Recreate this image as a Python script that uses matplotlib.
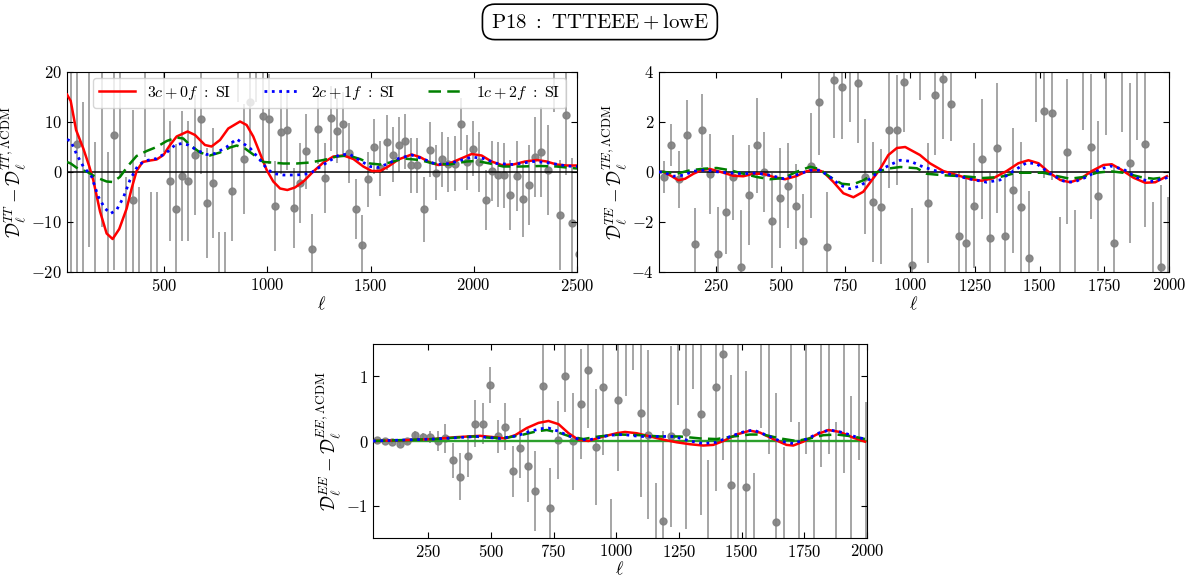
import matplotlib
matplotlib.use("Agg")
import matplotlib.pyplot as plt
import numpy as np

plt.rcParams['font.family'] = 'serif'
plt.rcParams['font.serif'] = ['cmr10']
plt.rcParams['mathtext.fontset'] = 'cm'
plt.rcParams['axes.formatter.use_mathtext'] = True
plt.rcParams['axes.unicode_minus'] = True

# ---- binned data (Delta ell = 30) ----
tt_ell = np.arange(47.5, 2510, 30)
tt_val = [30, 5.7, -28, 25, -30, 22, -26, 7.4, 24, -25,
          -5.6, -24, 23, -23, -22, 21, -1.8, -7.4, -0.8, -1.8,
          3.5, 10.6, -6.1, -2.1, -24, -23, -3.7, 25, 2.7, 14.1,
          25, 11.3, 10.6, -6.8, 8.1, 8.4, -7.1, -2.1, 4.2, -15.4,
          8.7, -1.1, 10.8, 8.3, 9.6, 3.9, -7.4, -14.5, -1.4, 5.1,
          0.8, 6.0, 3.5, 5.5, 6.2, 1.4, 1.4, -7.4, 4.5, -0.1,
          2.6, 1.6, 1.7, 9.7, 2.0, 4.7, 2.0, -5.5, 0.2, -0.5,
          -0.6, -4.5, -0.8, -5.4, -2.6, 3.0, 4.1, 0.4, 24, -8.6,
          11.4, -10.1, -16.4]
tt_err = [60, 45, 42, 40, 36, 33, 30, 27, 25, 24,
          18, 21, 20, 19, 18, 17, 12, 13, 13, 12,
          12, 11, 11, 11, 12, 11, 10, 11, 11, 10,
          11, 9, 9, 9, 8.5, 8, 8, 8, 7.5, 7,
          7, 7, 6.5, 6.5, 6.5, 6, 6, 6, 5.5, 5.5,
          5.5, 5.5, 5.5, 5.5, 5.5, 5.5, 5.5, 6.5, 5.5, 5.5,
          5.5, 5.5, 5.5, 5.2, 5.5, 5.5, 6, 6, 6, 6.5,
          6.5, 7, 7, 7.5, 8, 8, 9, 9, 12, 11,
          12, 13, 15]

te_ell = np.arange(47.5, 2000, 30)
te_val = [-0.19, 1.08, -0.29, 1.48, -2.88, 1.67, -0.09, -3.28, -1.59, -0.21,
          -3.81, -0.92, 1.08, 0.0, -1.95, -1.05, -0.55, -1.36, -2.76, 0.25,
          2.79, -2.99, 3.68, 3.41, 4.6, 3.55, -0.19, -1.19, -1.39, 1.68,
          1.68, 3.59, -3.72, 5.0, -1.25, 3.08, 3.71, 2.71, -2.56, -2.83,
          -1.35, 0.51, -2.63, 0.95, -2.55, -0.73, -1.39, -3.44, 4.8, 2.45,
          2.37, -4.6, 0.81, -4.3, 4.6, 1.01, -0.95, 4.5, -2.85, 4.7,
          0.37, 4.5, 1.11, -4.5, -3.81, -4.4]
te_err = [0.65, 0.85, 1.15, 1.4, 1.45, 1.45, 1.6, 1.9, 1.7, 1.7,
          2.3, 2.0, 1.9, 1.6, 1.9, 2.0, 1.7, 1.7, 1.9, 2.1,
          2.1, 2.2, 2.3, 2.1, 2.6, 2.4, 2.3, 2.4, 2.3, 2.3,
          2.2, 2.0, 2.3, 2.1, 2.4, 2.4, 2.4, 1.45, 2.6, 2.6,
          2.5, 2.4, 2.6, 2.6, 2.5, 2.5, 2.6, 2.7, 2.8, 2.7,
          2.7, 2.8, 2.9, 2.8, 2.9, 2.9, 3.0, 3.0, 3.1, 3.1,
          3.2, 3.2, 3.3, 3.3, 3.3, 3.4]

ee_ell = np.arange(47.5, 2000, 30)
ee_val = [0.01, 0.0, -0.02, -0.04, 0.0, 0.09, 0.06, 0.06, 0.0, 0.04,
          -0.3, -0.55, -0.23, 0.27, 0.27, 0.86, 0.07, 0.22, -0.47, -0.11,
          -0.38, -0.77, 0.85, -1.03, 0.02, 1.0, 0.0, 0.57, 1.10, -0.09,
          0.84, -1.9, 0.63, 1.9, 2.2, 0.44, 0.10, -2.0, -1.24, 0.07,
          2.0, 0.14, 2.3, 0.41, -1.9, 0.83, 1.35, -0.68, -1.7, -0.71,
          -2.4, 2.1, 1.8, -1.26, -2.2, 2.4, -1.9, 2.0, -2.3, 1.9,
          2.2, -2.1, 2.0, -1.8, 2.3, -2.0]
ee_err = [0.02, 0.02, 0.03, 0.04, 0.05, 0.06, 0.07, 0.09, 0.15, 0.22,
          0.27, 0.36, 0.33, 0.36, 0.31, 0.28, 0.26, 0.36, 0.4, 0.46,
          0.56, 0.62, 0.66, 0.62, 0.6, 0.55, 0.75, 0.85, 0.9, 0.9,
          1.05, 1.0, 1.1, 1.2, 1.1, 1.3, 1.3, 1.35, 1.4, 1.4,
          1.45, 1.5, 1.5, 1.55, 1.6, 1.6, 1.65, 1.7, 3.5, 1.8,
          1.9, 1.9, 2.0, 2.0, 2.1, 2.1, 2.2, 2.2, 2.3, 2.3,
          2.4, 2.4, 2.5, 2.5, 2.6, 2.6]

# ---- model residual curves ----
tt_red_ell = [30, 48, 74, 109, 138, 157, 190, 222, 251, 283, 319, 343, 367, 396, 432, 464,
              497, 529, 561, 614, 650, 698, 730, 771, 811, 868, 900, 932, 965, 997, 1029,
              1062, 1097, 1134, 1175, 1223, 1272, 1320, 1369, 1417, 1465, 1506, 1546, 1586,
              1635, 1699, 1739, 1788, 1828, 1876, 1933, 1990, 2038, 2086, 2135, 2191, 2248,
              2305, 2353, 2401, 2450, 2500]
tt_red = [15.5, 14.2, 8.4, 4.7, 1.1, -1.6, -7.9, -12.3, -13.4, -11.4, -7.3, -3.3, 0.2, 2.0,
          2.3, 2.5, 3.4, 5.4, 7.1, 8.1, 7.4, 5.4, 5.1, 6.4, 8.7, 10.1, 9.4, 7.1, 3.7, 0.4,
          -1.9, -3.3, -3.6, -3.1, -1.9, 0.1, 1.9, 3.1, 3.3, 2.6, 1.1, 0.2, 0.2, 1.1, 2.5,
          3.5, 3.0, 1.9, 1.4, 1.6, 2.6, 3.6, 3.3, 2.1, 1.4, 1.5, 2.1, 2.4, 2.1, 1.5, 1.3, 1.3]
tt_blue_ell = [30, 48, 77, 109, 149, 181, 214, 241, 270, 303, 335, 375, 416, 464, 513, 553,
               585, 618, 658, 706, 747, 803, 851, 916, 965, 997, 1029, 1078, 1142, 1207,
               1255, 1304, 1352, 1401, 1449, 1498, 1538, 1586, 1635, 1699, 1756, 1820, 1884,
               1990, 2046, 2111, 2191, 2289, 2353, 2450, 2500]
tt_blue = [6.5, 6.2, 3.5, 1.1, -0.9, -4.9, -7.3, -8.3, -7.6, -5.1, -1.6, 1.4, 2.3, 2.7, 3.9,
           5.4, 5.7, 5.4, 4.4, 3.5, 3.7, 5.0, 6.6, 4.8, 2.4, 0.7, -0.3, -0.6, -0.6, -0.3,
           1.0, 2.3, 3.5, 3.5, 2.3, 1.1, 0.9, 1.7, 2.7, 3.4, 2.6, 1.5, 1.7, 3.0, 2.7, 1.7,
           1.5, 2.1, 1.9, 1.2, 1.1]
tt_green_ell = [30, 48, 85, 125, 173, 222, 251, 286, 327, 367, 416, 464, 513, 561, 593, 626,
                674, 722, 771, 819, 852, 892, 932, 981, 1021, 1078, 1142, 1207, 1272, 1336,
                1393, 1449, 1498, 1546, 1594, 1659, 1739, 1804, 1884, 1965, 2014, 2078, 2143,
                2224, 2321, 2401, 2500]
tt_green = [2.0, 1.7, 0.6, 0.1, -1.1, -1.9, -2.0, -1.0, 1.3, 3.2, 4.2, 5.0, 6.2, 6.9, 6.7,
            5.4, 3.9, 3.3, 3.9, 4.9, 5.3, 4.7, 3.5, 2.0, 1.9, 1.7, 1.7, 1.9, 2.4, 3.1, 3.3,
            2.6, 1.7, 1.5, 1.9, 2.7, 2.4, 1.7, 1.5, 2.1, 2.2, 1.7, 1.1, 1.1, 1.2, 1.1, 0.7]

te_red_ell = [30, 47, 79, 105, 131, 163, 195, 227, 266, 317, 356, 394, 433, 472, 517, 562,
              600, 639, 665, 703, 742, 781, 819, 852, 884, 916, 949, 981, 1038, 1076, 1128,
              1180, 1231, 1276, 1321, 1373, 1418, 1457, 1496, 1541, 1580, 1618, 1657, 1702,
              1747, 1779, 1818, 1863, 1908, 1947, 1992]
te_red = [0.0, 0.01, -0.17, -0.33, -0.27, -0.07, 0.08, 0.12, 0.01, -0.15, -0.17, -0.07,
          -0.07, -0.2, -0.29, -0.16, 0.03, 0.1, 0.0, -0.39, -0.85, -1.01, -0.79, -0.33, 0.12,
          0.68, 0.96, 1.0, 0.68, 0.35, 0.04, -0.12, -0.28, -0.35, -0.25, 0.04, 0.35, 0.47,
          0.35, -0.05, -0.32, -0.41, -0.28, 0.04, 0.28, 0.31, 0.08, -0.23, -0.43, -0.41, -0.17]
te_blue_ell = [30, 47, 85, 124, 163, 208, 253, 305, 356, 408, 459, 511, 562, 614, 652, 691,
               730, 768, 807, 846, 884, 923, 962, 1001, 1051, 1102, 1167, 1231, 1296, 1347,
               1399, 1450, 1489, 1541, 1592, 1631, 1682, 1734, 1773, 1824, 1876, 1927, 1979,
               2000]
te_blue = [0.0, 0.0, -0.17, -0.13, 0.03, 0.08, 0.01, -0.04, -0.07, -0.04, -0.13, -0.27,
           -0.11, 0.07, 0.07, -0.2, -0.53, -0.67, -0.56, -0.27, 0.07, 0.29, 0.47, 0.43, 0.2,
           0.04, -0.12, -0.28, -0.41, -0.32, 0.04, 0.37, 0.33, -0.07, -0.36, -0.41, -0.2,
           0.11, 0.24, 0.11, -0.23, -0.39, -0.27, -0.2]
te_green_ell = [30, 47, 98, 150, 201, 253, 305, 356, 408, 459, 511, 562, 614, 646, 691, 736,
                775, 820, 865, 910, 962, 1026, 1064, 1128, 1206, 1283, 1347, 1411, 1463, 1515,
                1566, 1618, 1669, 1721, 1773, 1824, 1889, 1940, 1992]
te_green = [0.0, 0.01, -0.07, 0.07, 0.13, 0.16, 0.07, -0.07, -0.2, -0.29, -0.24, 0.01, 0.21,
            0.13, -0.2, -0.47, -0.51, -0.33, -0.03, 0.13, 0.2, 0.15, -0.07, -0.13, -0.17,
            -0.24, -0.2, -0.03, -0.03, -0.03, -0.16, -0.27, -0.2, -0.03, 0.03, -0.03, -0.2,
            -0.27, -0.2]

ee_red_ell = [30, 138, 271, 364, 457, 510, 557, 597, 643, 690, 730, 770, 810, 849, 889, 949,
              1002, 1035, 1082, 1135, 1188, 1241, 1294, 1347, 1387, 1427, 1480, 1533, 1573,
              1626, 1679, 1706, 1746, 1799, 1846, 1892, 1946, 1992]
ee_red = [0.0, 0.01, 0.03, 0.06, 0.08, 0.06, 0.04, 0.09, 0.2, 0.28, 0.31, 0.26, 0.12, 0.02,
          0.0, 0.07, 0.12, 0.14, 0.12, 0.07, 0.02, -0.02, -0.05, -0.07, -0.06, 0.0, 0.1, 0.16,
          0.13, 0.03, -0.06, -0.07, -0.01, 0.1, 0.17, 0.14, 0.05, -0.01]
ee_blue_ell = [30, 271, 444, 537, 604, 657, 697, 730, 770, 810, 856, 895, 975, 1028, 1095,
               1161, 1228, 1294, 1347, 1400, 1454, 1507, 1547, 1600, 1653, 1706, 1759, 1812,
               1852, 1905, 1958, 1992]
ee_blue = [0.0, 0.03, 0.07, 0.04, 0.08, 0.15, 0.19, 0.2, 0.15, 0.08, 0.02, 0.02, 0.09, 0.1,
           0.07, 0.07, 0.07, 0.0, -0.04, -0.02, 0.07, 0.14, 0.17, 0.09, 0.0, -0.04, 0.03,
           0.13, 0.17, 0.13, 0.06, 0.03]
ee_green_ell = [30, 271, 431, 497, 563, 630, 683, 723, 770, 816, 869, 929, 1015, 1095, 1175,
                1254, 1334, 1400, 1467, 1533, 1586, 1653, 1719, 1772, 1826, 1879, 1946, 1992]
ee_green = [0.0, 0.03, 0.07, 0.05, 0.05, 0.1, 0.15, 0.17, 0.13, 0.07, 0.03, 0.07, 0.1, 0.09,
            0.07, 0.07, 0.04, 0.03, 0.07, 0.1, 0.1, 0.04, 0.0, 0.04, 0.09, 0.1, 0.07, 0.03]

labels = [r'$3c+0f\ :\ \mathrm{SI}$', r'$2c+1f\ :\ \mathrm{SI}$', r'$1c+2f\ :\ \mathrm{SI}$']

W, H = 1195, 576
fig = plt.figure(figsize=(W / 100, H / 100), dpi=100)
ax_tt = fig.add_axes([67 / W, 1 - 272 / H, 510 / W, 200 / H])
ax_te = fig.add_axes([659 / W, 1 - 272 / H, 510 / W, 200 / H])
ax_ee = fig.add_axes([373 / W, 1 - 538 / H, 494 / W, 194 / H])


def panel(ax, ell, val, err, curves, xlim, ylim, yticks, xticks, ylabel, zero_color):
    ax.errorbar(ell, val, yerr=err, fmt='o', color='grey', ms=5, elinewidth=1.1,
                ecolor='grey', alpha=0.9, zorder=1)
    ax.axhline(0, color=zero_color, lw=1.7 if zero_color != 'k' else 1.1, zorder=2)
    (x1, y1), (x2, y2), (x3, y3) = curves
    ax.plot(x1, y1, color='red', lw=1.8, label=labels[0], zorder=3)
    ax.plot(x2, y2, color='blue', lw=2.0, ls=':', label=labels[1], zorder=4)
    ax.plot(x3, y3, color='green', lw=1.8, ls=(0, (5, 2.5)), label=labels[2], zorder=3)
    ax.set_xlim(*xlim)
    ax.set_ylim(*ylim)
    ax.set_xticks(xticks)
    ax.set_yticks(yticks)
    ax.tick_params(direction='in', top=True, right=True, labelsize=12, length=4)
    ax.set_xlabel(r'$\ell$', fontsize=13, labelpad=1)
    ax.set_ylabel(ylabel, fontsize=13.5, labelpad=2)


panel(ax_tt, tt_ell, tt_val, tt_err,
      [(tt_red_ell, tt_red), (tt_blue_ell, tt_blue), (tt_green_ell, tt_green)],
      (30, 2500), (-20, 20), [-20, -10, 0, 10, 20], [500, 1000, 1500, 2000, 2500],
      r'$\mathcal{D}_\ell^{TT} - \mathcal{D}_\ell^{TT,\Lambda\mathrm{CDM}}$', 'k')
ax_tt.legend(loc='upper center', ncol=3, fontsize=11.5, bbox_to_anchor=(0.515, 1.0),
             handlelength=2.2, columnspacing=2.0, borderaxespad=0.35)

panel(ax_te, te_ell, te_val, te_err,
      [(te_red_ell, te_red), (te_blue_ell, te_blue), (te_green_ell, te_green)],
      (30, 2000), (-4, 4), [-4, -2, 0, 2, 4], [250, 500, 750, 1000, 1250, 1500, 1750, 2000],
      r'$\mathcal{D}_\ell^{TE} - \mathcal{D}_\ell^{TE,\Lambda\mathrm{CDM}}$', 'k')

panel(ax_ee, ee_ell, ee_val, ee_err,
      [(ee_red_ell, ee_red), (ee_blue_ell, ee_blue), (ee_green_ell, ee_green)],
      (30, 2000), (-1.5, 1.5), [-1, 0, 1], [250, 500, 750, 1000, 1250, 1500, 1750, 2000],
      r'$\mathcal{D}_\ell^{EE} - \mathcal{D}_\ell^{EE,\Lambda\mathrm{CDM}}$', '#2ca02c')
ax_ee.xaxis.labelpad = 0

fig.text(0.502, 0.962, r'$\mathrm{P18}\ :\ \mathrm{TTTEEE}+\mathrm{lowE}$', fontsize=15,
         ha='center', va='center',
         bbox=dict(boxstyle='round,pad=0.4,rounding_size=0.6', fc='white', ec='black', lw=1.2))

fig.savefig('out.png', dpi=100)
